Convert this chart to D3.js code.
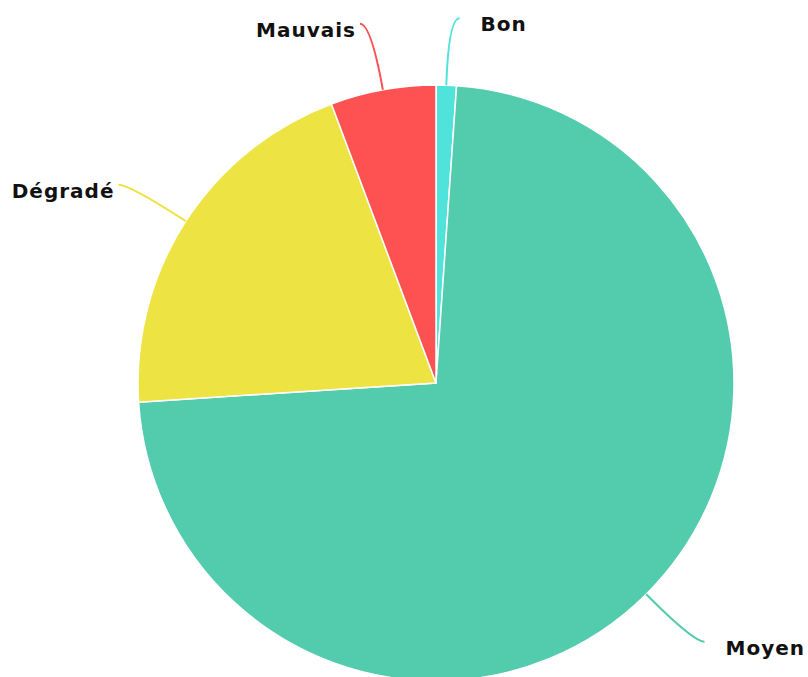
<!DOCTYPE html>
<html>
<head>
<meta charset="utf-8">
<script src="https://cdn.jsdelivr.net/npm/d3@7"></script>
<style>
  body { margin: 0; background: #fff; }
  .label { font-family: "DejaVu Sans", sans-serif; font-weight: bold; font-size: 20px; letter-spacing: 1px; fill: #111; }
</style>
</head>
<body>
<script>
// slice order, clockwise from 12 o'clock
var categories = ["Bon", "Moyen", "Dégradé", "Mauvais"];
var values = [1.1, 72.8, 20.3, 5.7];
var colors = ["#4fe3db", "#53cbad", "#ede444", "#fd5152"];

var width = 808, height = 677;
var cx = 436, cy = 383, radius = 298;
var lineLen = 67, hook = 11;

var svg = d3.select("body").append("svg")
    .attr("width", width)
    .attr("height", height);

var g = svg.append("g").attr("transform", "translate(" + cx + "," + cy + ")");

var pie = d3.pie().sort(null).value(function (d) { return d; });
var arcs = pie(values);

var arc = d3.arc().innerRadius(0).outerRadius(radius);

g.selectAll("path.slice")
    .data(arcs)
    .enter()
    .append("path")
    .attr("class", "slice")
    .attr("d", arc)
    .attr("fill", function (d, i) { return colors[i]; })
    .attr("stroke", "#fff")
    .attr("stroke-width", 1.5);

// leader lines: out from the slice's middle, then bend to horizontal
function pts(d) {
    var a = (d.startAngle + d.endAngle) / 2;
    var sx = Math.sin(a), sy = -Math.cos(a);
    var p0 = [radius * sx, radius * sy];
    var p1 = [(radius + lineLen) * sx, (radius + lineLen) * sy];
    var side = sx >= 0 ? 1 : -1;
    var p2 = [p1[0] + side * hook, p1[1]];
    return { p0: p0, p1: p1, p2: p2, side: side };
}

g.selectAll("path.leader")
    .data(arcs)
    .enter()
    .append("path")
    .attr("class", "leader")
    .attr("d", function (d) {
        var p = pts(d);
        var path = d3.path();
        path.moveTo(p.p0[0], p.p0[1]);
        path.quadraticCurveTo(p.p1[0], p.p1[1], p.p2[0], p.p2[1]);
        return path.toString();
    })
    .attr("fill", "none")
    .attr("stroke", function (d, i) { return colors[i]; })
    .attr("stroke-width", 2);

g.selectAll("text.label")
    .data(arcs)
    .enter()
    .append("text")
    .attr("class", "label")
    .attr("x", function (d) {
        var p = pts(d);
        return p.p2[0] + (p.side > 0 ? 21 : -4);
    })
    .attr("y", function (d) { return pts(d).p2[1] + 6; })
    .attr("dominant-baseline", "central")
    .attr("text-anchor", function (d) { return pts(d).side > 0 ? "start" : "end"; })
    .text(function (d, i) { return categories[i]; });
</script>
</body>
</html>
